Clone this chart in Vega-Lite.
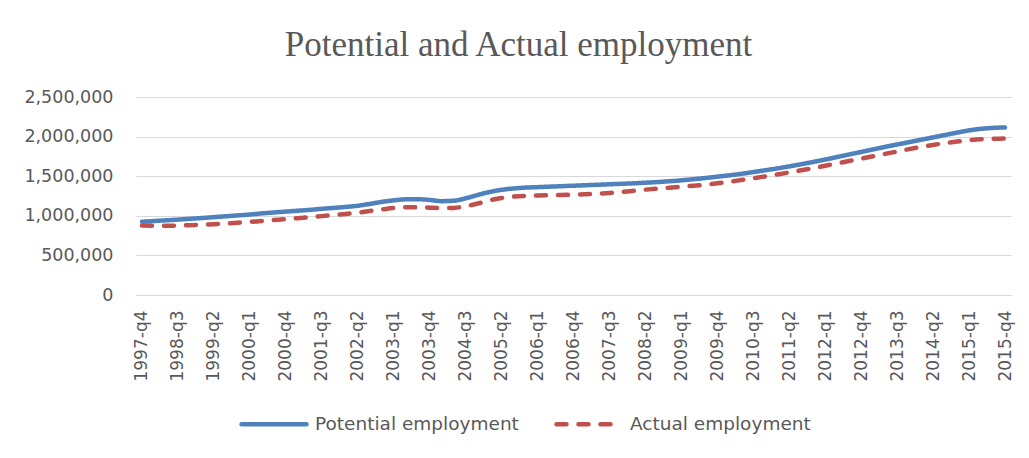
{
  "$schema": "https://vega.github.io/schema/vega-lite/v6.json",
  "width": 875,
  "height": 198,
  "padding": {"left": 23, "top": 28, "right": 5, "bottom": 5},
  "background": "white",
  "title": {
    "text": "Potential and Actual employment",
    "font": "Liberation Serif",
    "fontSize": 35,
    "fontWeight": "normal",
    "color": "#595959",
    "anchor": "middle",
    "frame": "bounds",
    "offset": 25
  },
  "data": {
    "values": [
      {"q": "1997-q4", "Potential employment": 925000, "Actual employment": 877000},
      {"q": "1998-q1", "Potential employment": 934000, "Actual employment": 875000},
      {"q": "1998-q2", "Potential employment": 943000, "Actual employment": 873000},
      {"q": "1998-q3", "Potential employment": 952000, "Actual employment": 876000},
      {"q": "1998-q4", "Potential employment": 962000, "Actual employment": 882000},
      {"q": "1999-q1", "Potential employment": 972000, "Actual employment": 888000},
      {"q": "1999-q2", "Potential employment": 983000, "Actual employment": 894000},
      {"q": "1999-q3", "Potential employment": 994000, "Actual employment": 903000},
      {"q": "1999-q4", "Potential employment": 1005000, "Actual employment": 913000},
      {"q": "2000-q1", "Potential employment": 1016000, "Actual employment": 924000},
      {"q": "2000-q2", "Potential employment": 1030000, "Actual employment": 935000},
      {"q": "2000-q3", "Potential employment": 1042000, "Actual employment": 946000},
      {"q": "2000-q4", "Potential employment": 1053000, "Actual employment": 957000},
      {"q": "2001-q1", "Potential employment": 1064000, "Actual employment": 970000},
      {"q": "2001-q2", "Potential employment": 1075000, "Actual employment": 983000},
      {"q": "2001-q3", "Potential employment": 1088000, "Actual employment": 996000},
      {"q": "2001-q4", "Potential employment": 1100000, "Actual employment": 1010000},
      {"q": "2002-q1", "Potential employment": 1112000, "Actual employment": 1023000},
      {"q": "2002-q2", "Potential employment": 1127000, "Actual employment": 1040000},
      {"q": "2002-q3", "Potential employment": 1150000, "Actual employment": 1060000},
      {"q": "2002-q4", "Potential employment": 1175000, "Actual employment": 1080000},
      {"q": "2003-q1", "Potential employment": 1195000, "Actual employment": 1100000},
      {"q": "2003-q2", "Potential employment": 1208000, "Actual employment": 1108000},
      {"q": "2003-q3", "Potential employment": 1210000, "Actual employment": 1108000},
      {"q": "2003-q4", "Potential employment": 1200000, "Actual employment": 1102000},
      {"q": "2004-q1", "Potential employment": 1185000, "Actual employment": 1097000},
      {"q": "2004-q2", "Potential employment": 1190000, "Actual employment": 1100000},
      {"q": "2004-q3", "Potential employment": 1220000, "Actual employment": 1120000},
      {"q": "2004-q4", "Potential employment": 1262000, "Actual employment": 1155000},
      {"q": "2005-q1", "Potential employment": 1300000, "Actual employment": 1195000},
      {"q": "2005-q2", "Potential employment": 1328000, "Actual employment": 1225000},
      {"q": "2005-q3", "Potential employment": 1345000, "Actual employment": 1242000},
      {"q": "2005-q4", "Potential employment": 1356000, "Actual employment": 1252000},
      {"q": "2006-q1", "Potential employment": 1362000, "Actual employment": 1257000},
      {"q": "2006-q2", "Potential employment": 1368000, "Actual employment": 1260000},
      {"q": "2006-q3", "Potential employment": 1374000, "Actual employment": 1263000},
      {"q": "2006-q4", "Potential employment": 1380000, "Actual employment": 1266000},
      {"q": "2007-q1", "Potential employment": 1386000, "Actual employment": 1272000},
      {"q": "2007-q2", "Potential employment": 1392000, "Actual employment": 1280000},
      {"q": "2007-q3", "Potential employment": 1398000, "Actual employment": 1288000},
      {"q": "2007-q4", "Potential employment": 1404000, "Actual employment": 1300000},
      {"q": "2008-q1", "Potential employment": 1410000, "Actual employment": 1315000},
      {"q": "2008-q2", "Potential employment": 1418000, "Actual employment": 1330000},
      {"q": "2008-q3", "Potential employment": 1426000, "Actual employment": 1343000},
      {"q": "2008-q4", "Potential employment": 1436000, "Actual employment": 1354000},
      {"q": "2009-q1", "Potential employment": 1448000, "Actual employment": 1366000},
      {"q": "2009-q2", "Potential employment": 1462000, "Actual employment": 1379000},
      {"q": "2009-q3", "Potential employment": 1477000, "Actual employment": 1393000},
      {"q": "2009-q4", "Potential employment": 1494000, "Actual employment": 1410000},
      {"q": "2010-q1", "Potential employment": 1511000, "Actual employment": 1430000},
      {"q": "2010-q2", "Potential employment": 1530000, "Actual employment": 1452000},
      {"q": "2010-q3", "Potential employment": 1552000, "Actual employment": 1474000},
      {"q": "2010-q4", "Potential employment": 1575000, "Actual employment": 1498000},
      {"q": "2011-q1", "Potential employment": 1598000, "Actual employment": 1522000},
      {"q": "2011-q2", "Potential employment": 1624000, "Actual employment": 1548000},
      {"q": "2011-q3", "Potential employment": 1651000, "Actual employment": 1575000},
      {"q": "2011-q4", "Potential employment": 1680000, "Actual employment": 1603000},
      {"q": "2012-q1", "Potential employment": 1710000, "Actual employment": 1632000},
      {"q": "2012-q2", "Potential employment": 1742000, "Actual employment": 1662000},
      {"q": "2012-q3", "Potential employment": 1774000, "Actual employment": 1692000},
      {"q": "2012-q4", "Potential employment": 1806000, "Actual employment": 1722000},
      {"q": "2013-q1", "Potential employment": 1838000, "Actual employment": 1752000},
      {"q": "2013-q2", "Potential employment": 1870000, "Actual employment": 1782000},
      {"q": "2013-q3", "Potential employment": 1900000, "Actual employment": 1812000},
      {"q": "2013-q4", "Potential employment": 1930000, "Actual employment": 1842000},
      {"q": "2014-q1", "Potential employment": 1960000, "Actual employment": 1870000},
      {"q": "2014-q2", "Potential employment": 1990000, "Actual employment": 1895000},
      {"q": "2014-q3", "Potential employment": 2020000, "Actual employment": 1918000},
      {"q": "2014-q4", "Potential employment": 2050000, "Actual employment": 1938000},
      {"q": "2015-q1", "Potential employment": 2078000, "Actual employment": 1955000},
      {"q": "2015-q2", "Potential employment": 2098000, "Actual employment": 1966000},
      {"q": "2015-q3", "Potential employment": 2110000, "Actual employment": 1972000},
      {"q": "2015-q4", "Potential employment": 2115000, "Actual employment": 1975000}
    ]
  },
  "transform": [
    {"fold": ["Potential employment", "Actual employment"], "as": ["series", "value"]}
  ],
  "mark": {"type": "line", "interpolate": "monotone", "strokeWidth": 4.5, "strokeCap": "round", "strokeJoin": "round"},
  "encoding": {
    "x": {
      "field": "q",
      "type": "nominal",
      "sort": null,
      "scale": {"type": "point", "padding": 0.5},
      "axis": {
        "title": null,
        "labelAngle": -90,
        "labelPadding": 15,
        "labelFont": "DejaVu Sans",
        "labelFontSize": 17,
        "labelColor": "#595959",
        "ticks": false,
        "grid": false,
        "domainColor": "#d9d9d9",
        "domainWidth": 1,
        "labelOverlap": false,
        "values": ["1997-q4","1998-q3","1999-q2","2000-q1","2000-q4","2001-q3","2002-q2","2003-q1","2003-q4","2004-q3","2005-q2","2006-q1","2006-q4","2007-q3","2008-q2","2009-q1","2009-q4","2010-q3","2011-q2","2012-q1","2012-q4","2013-q3","2014-q2","2015-q1","2015-q4"]
      }
    },
    "y": {
      "field": "value",
      "type": "quantitative",
      "scale": {"domain": [0, 2500000], "nice": false},
      "axis": {
        "title": null,
        "values": [0, 500000, 1000000, 1500000, 2000000, 2500000],
        "format": ",d",
        "labelFont": "DejaVu Sans",
        "labelFontSize": 17.5,
        "labelColor": "#595959",
        "labelPadding": 23,
        "ticks": false,
        "domain": false,
        "gridColor": "#d9d9d9",
        "gridWidth": 1
      }
    },
    "color": {
      "field": "series",
      "type": "nominal",
      "scale": {"domain": ["Potential employment", "Actual employment"], "range": ["#4F81BD", "#C0504D"]},
      "legend": {
        "title": null,
        "orient": "none",
        "legendX": 103,
        "legendY": 292,
        "direction": "horizontal",
        "symbolType": "stroke",
        "symbolSize": 4225,
        "symbolStrokeWidth": 4.5,
        "labelFont": "DejaVu Sans",
        "labelFontSize": 18.5,
        "labelColor": "#595959",
        "labelOffset": 6,
        "columnPadding": 28,
        "labelLimit": 400,
        "encode": {"symbols": {"update": {"strokeCap": {"value": "round"}}}}
      }
    },
    "strokeDash": {
      "field": "series",
      "type": "nominal",
      "scale": {"domain": ["Potential employment", "Actual employment"], "range": [[1, 0], [10, 12]]},
      "legend": null
    }
  },
  "config": {
    "view": {"stroke": null}
  }
}
